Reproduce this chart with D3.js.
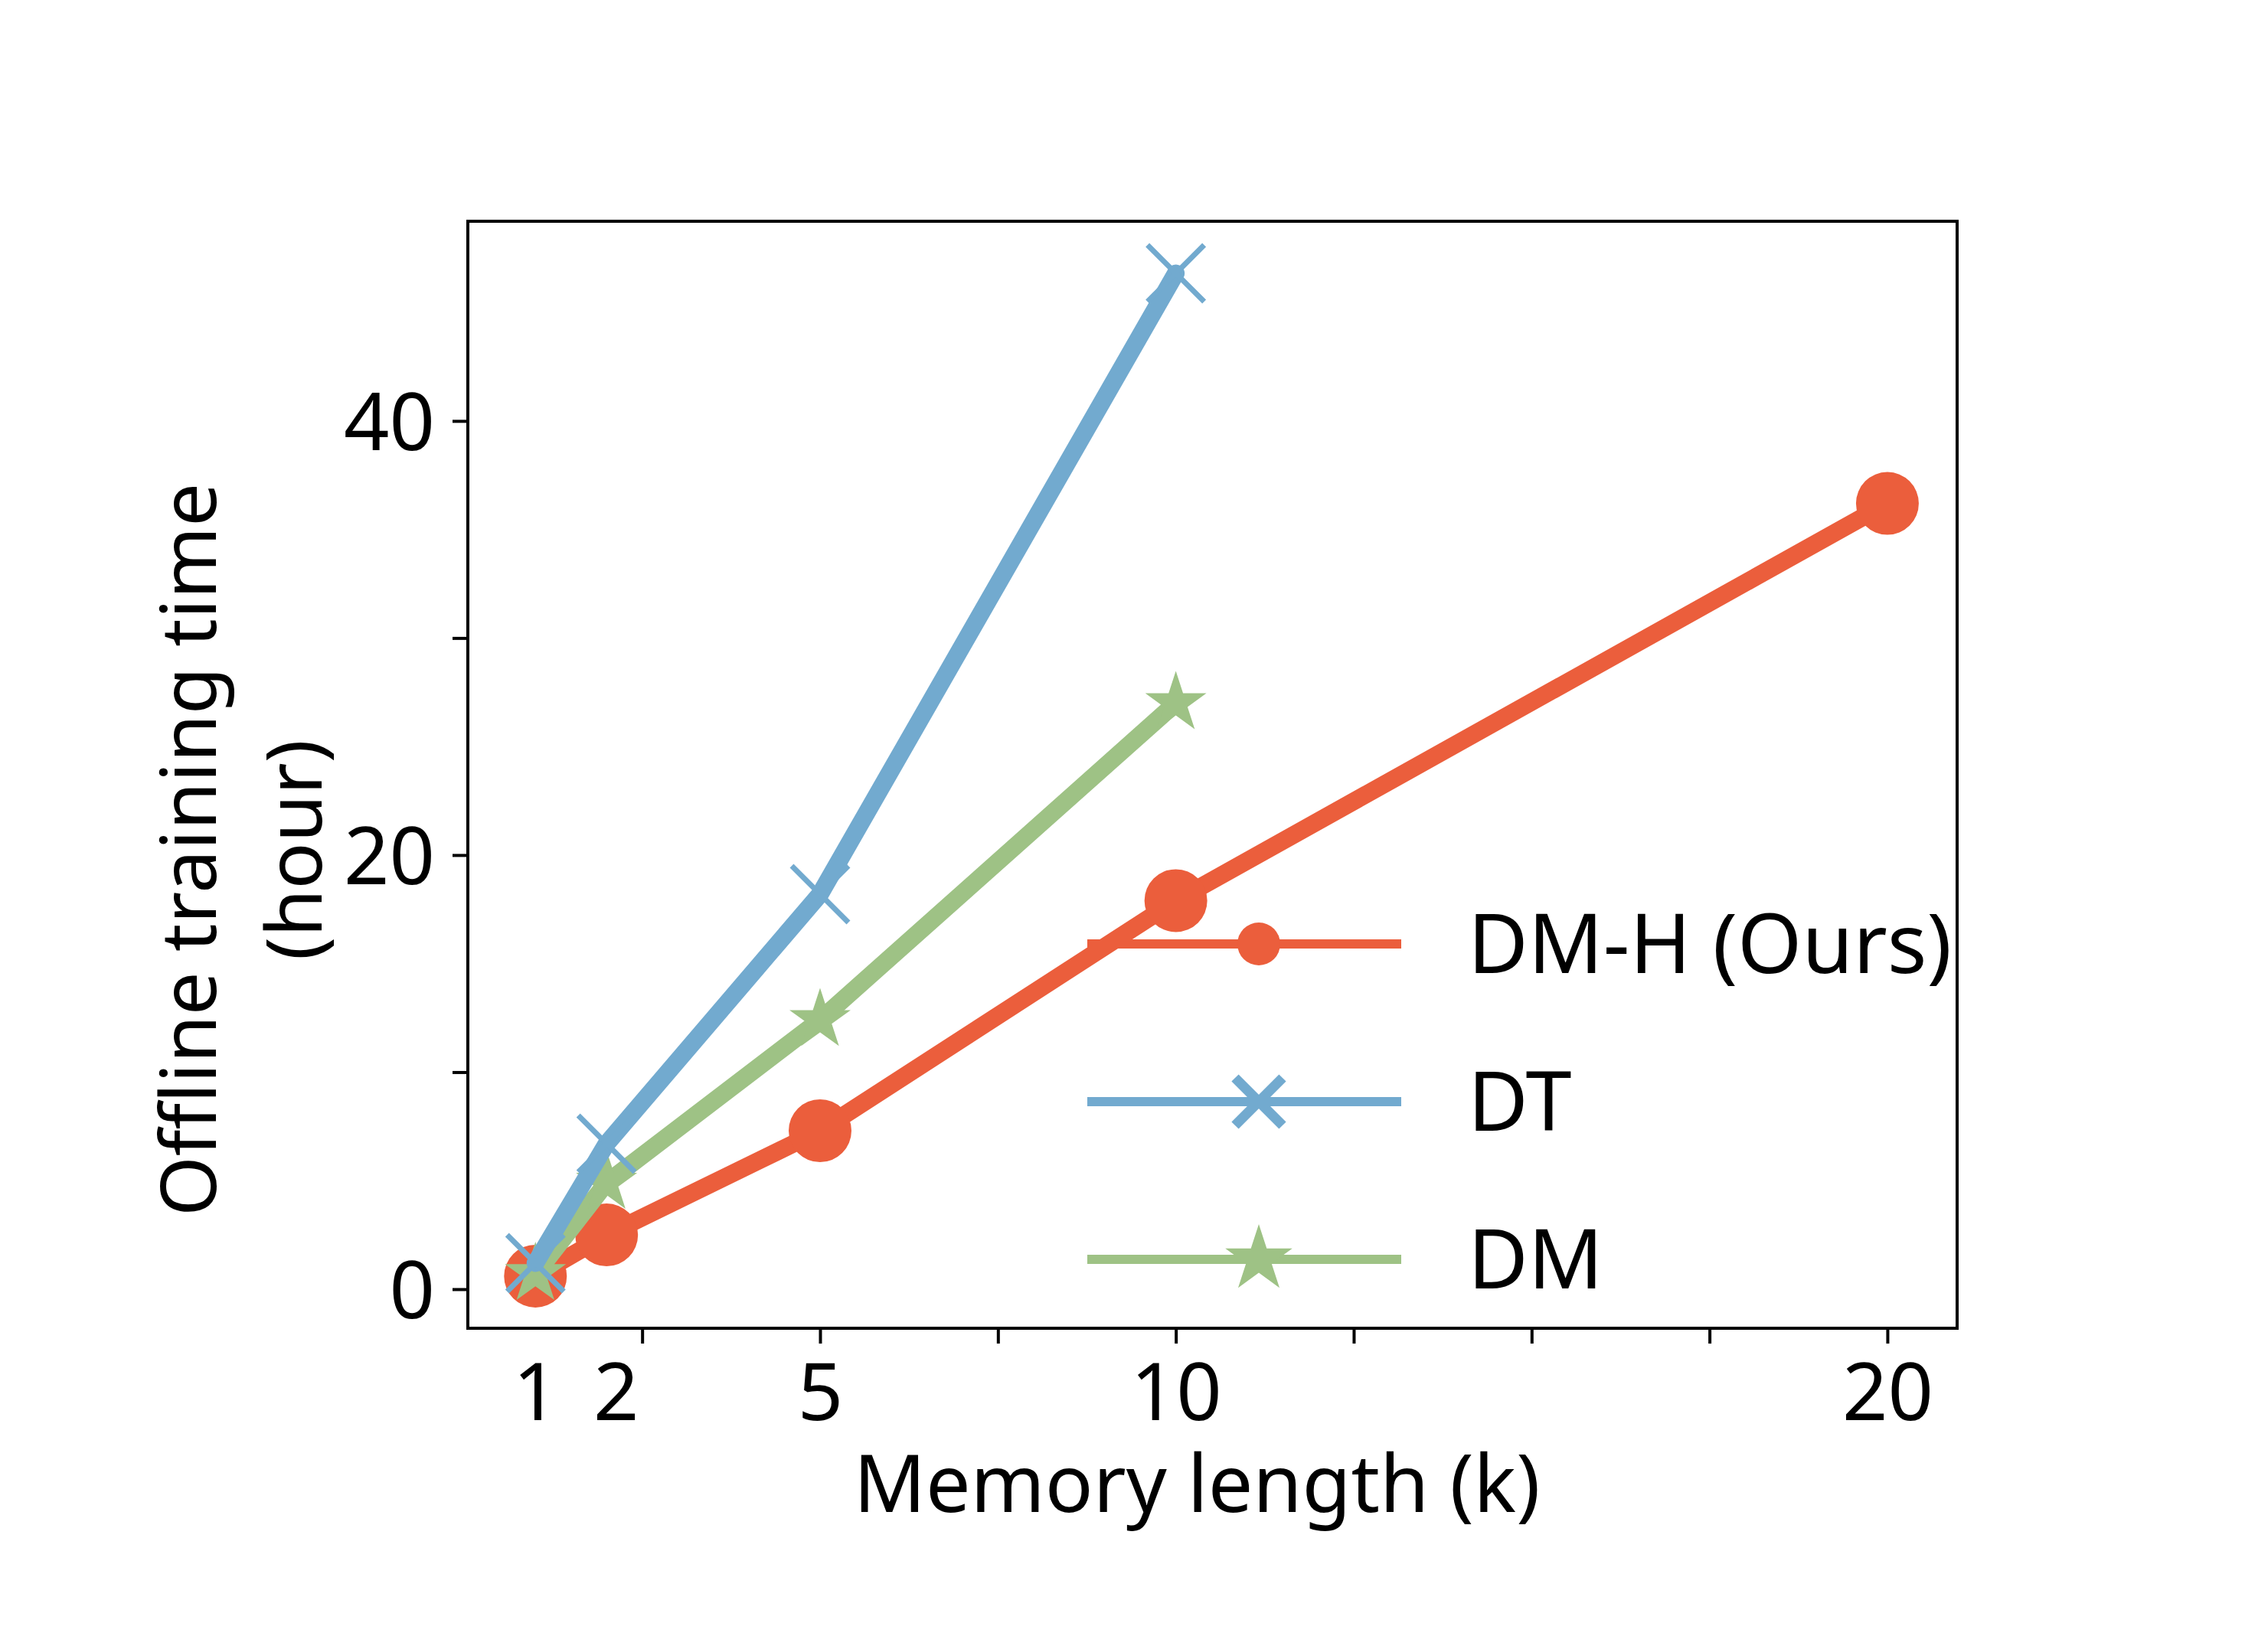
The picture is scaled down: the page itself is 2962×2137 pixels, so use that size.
<!DOCTYPE html>
<html>
<head>
<meta charset="utf-8">
<script src="https://cdn.jsdelivr.net/npm/d3@7"></script>
<style>
  body { margin: 0; background: white; }
  text { font-family: "Noto Sans", sans-serif; fill: black; }
</style>
</head>
<body>
<svg id="chart" width="2962" height="2137"></svg>
<script>
// DATA
const memLengths = [1, 2, 5, 10, 20];
const xTickLabels = ["1", "2", "5", "10", "20"];
const xTicks = [2.5, 5, 7.5, 10, 12.5, 15, 17.5, 20];
const yTicks = [0, 10, 20, 30, 40];
const yTickLabels = ["0", "", "20", "", "40"];

const dmhTime = [0.6, 2.5, 7.3, 17.9, 36.2];
const dtTime = [1.2, 6.7, 18.2, 46.8];
const dmTime = [0.7, 4.9, 12.4, 27.0];

const seriesNames = ["DM-H (Ours)", "DT", "DM"];
const seriesColors = ["#eb5e3c", "#72aacf", "#9ec285"];
const seriesMarkers = ["circle", "x", "star"];

const series = [
  { name: seriesNames[0], color: seriesColors[0], marker: seriesMarkers[0], values: dmhTime },
  { name: seriesNames[1], color: seriesColors[1], marker: seriesMarkers[1], values: dtTime },
  { name: seriesNames[2], color: seriesColors[2], marker: seriesMarkers[2], values: dmTime }
];

const svg = d3.select("#chart");
svg.append("rect").attr("width", 2962).attr("height", 2137).attr("fill", "white");

// plot area
const plotLeft = 611, plotRight = 2556, plotTop = 289, plotBottom = 1735;

const x = d3.scaleLinear().domain([0.05, 20.98]).range([plotLeft, plotRight]);
const y = d3.scaleLinear().domain([-1.8, 49.2]).range([plotBottom, plotTop]);

const fontSize = 104;

// axes
const xAxis = svg.append("g")
  .attr("transform", `translate(0,${plotBottom})`)
  .call(d3.axisBottom(x).tickValues(xTicks).tickFormat("").tickSize(20).tickSizeOuter(0));
xAxis.select(".domain").remove();
xAxis.selectAll("line").attr("stroke", "black").attr("stroke-width", 4);

const xLabels = svg.append("g")
  .attr("transform", `translate(0,${plotBottom})`)
  .call(d3.axisBottom(x).tickValues(memLengths).tickFormat((d, i) => xTickLabels[i]).tickSize(0).tickPadding(46));
xLabels.select(".domain").remove();
xLabels.selectAll("text")
  .attr("font-size", fontSize)
  .attr("font-family", "Noto Sans")
  .attr("dx", (d, i) => i === 1 ? 12 : 0); // "2" sits a little right of its point

const yAxis = svg.append("g")
  .attr("transform", `translate(${plotLeft},0)`)
  .call(d3.axisLeft(y).tickValues(yTicks).tickFormat((d, i) => yTickLabels[i]).tickSize(20).tickPadding(23).tickSizeOuter(0));
yAxis.select(".domain").remove();
yAxis.selectAll("line").attr("stroke", "black").attr("stroke-width", 4);
yAxis.selectAll("text").attr("font-size", fontSize).attr("font-family", "Noto Sans").attr("dy", "0.36em");

// axis titles
svg.append("text")
  .attr("x", 1563).attr("y", 1975)
  .attr("text-anchor", "middle")
  .attr("font-size", fontSize)
  .text("Memory length (k)");

svg.append("text")
  .attr("transform", "translate(282,1110) rotate(-90)")
  .attr("text-anchor", "middle")
  .attr("font-size", 101)
  .text("Offline training time");

svg.append("text")
  .attr("transform", "translate(420,1110) rotate(-90)")
  .attr("text-anchor", "middle")
  .attr("font-size", 101)
  .text("(hour)");

// markers
function xPath(a) {
  return `M${-a},${-a}L${a},${a}M${-a},${a}L${a},${-a}`;
}

function drawMarker(g, type, color, big) {
  if (type === "circle") {
    const r = big ? 41 : 28;
    g.append("path").attr("d", d3.symbol(d3.symbolCircle, Math.PI * r * r)()).attr("fill", color);
  } else if (type === "star") {
    const R = big ? 42 : 46;
    g.append("path").attr("d", d3.symbol(d3.symbolStar, R * R / 0.8908130915292852)()).attr("fill", color);
  } else {
    g.append("path").attr("d", xPath(big ? 37 : 31))
      .attr("fill", "none").attr("stroke", color).attr("stroke-width", big ? 7 : 13);
  }
}

const line = d3.line().x((d, i) => x(memLengths[i])).y(d => y(d));

// drawing order: red at bottom, then green, then blue
const drawOrder = [0, 2, 1];
drawOrder.forEach(si => {
  const s = series[si];
  const g = svg.append("g");
  g.append("path")
    .datum(s.values)
    .attr("d", line)
    .attr("fill", "none")
    .attr("stroke", s.color)
    .attr("stroke-width", 23)
    .attr("stroke-linejoin", "round")
    .attr("stroke-linecap", "round");
  g.selectAll("g.mk")
    .data(s.values)
    .join("g")
    .attr("class", "mk")
    .attr("transform", (d, i) => `translate(${x(memLengths[i])},${y(d)})`)
    .each(function () { drawMarker(d3.select(this), s.marker, s.color, true); });
});

// legend
const legend = svg.append("g").attr("transform", "translate(1420,1233)");
series.forEach((s, i) => {
  const row = legend.append("g").attr("transform", `translate(0,${i * 206})`);
  row.append("line")
    .attr("x1", 0).attr("x2", 410)
    .attr("stroke", s.color).attr("stroke-width", 12);
  const mk = row.append("g").attr("transform", "translate(224,0)");
  drawMarker(mk, s.marker, s.color, false);
  row.append("text")
    .attr("x", 497).attr("y", 38)
    .attr("font-size", 108)
    .text(s.name);
});

// frame
svg.append("rect")
  .attr("x", plotLeft).attr("y", plotTop)
  .attr("width", plotRight - plotLeft).attr("height", plotBottom - plotTop)
  .attr("fill", "none").attr("stroke", "black").attr("stroke-width", 4);
</script>
</body>
</html>
